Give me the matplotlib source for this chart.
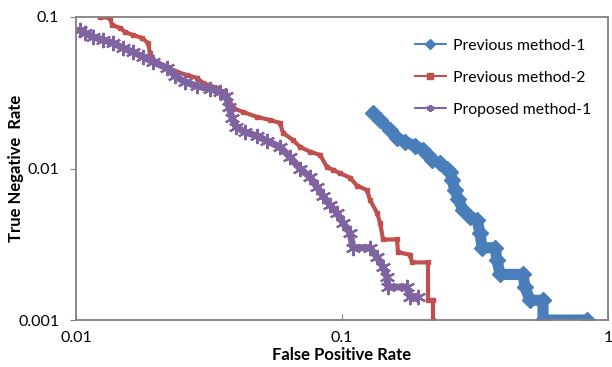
import matplotlib
matplotlib.use("Agg")
import matplotlib.pyplot as plt

plt.rcParams['font.family'] = ['Lato', 'DejaVu Sans']

# Previous method-1 (blue)
pm1_fpr = [0.1307, 0.139, 0.1515, 0.161, 0.1725, 0.1881, 0.2016, 0.2105, 0.2179, 0.2336,
           0.2482, 0.2547, 0.2592, 0.266, 0.2731, 0.2851, 0.3028, 0.3217, 0.3302, 0.336,
           0.376, 0.3826, 0.3926, 0.479, 0.4875, 0.509, 0.5696, 0.5696, 0.834]
pm1_tnr = [0.0232, 0.0209, 0.018, 0.0159, 0.015, 0.0141, 0.0133, 0.0123, 0.0114, 0.0109,
           0.0100, 0.0095, 0.0084, 0.0072, 0.0063, 0.0053, 0.0048, 0.0046, 0.00375, 0.0030,
           0.0030, 0.0025, 0.0020, 0.0020, 0.00165, 0.00135, 0.00135, 0.001, 0.001]

# Previous method-2 (red)
pm2_fpr = [0.01231, 0.01342, 0.01366, 0.01464, 0.01528, 0.01638, 0.0177, 0.01865, 0.01897, 0.01947,
           0.02198, 0.02398, 0.02615, 0.02851, 0.03003, 0.03389, 0.03696, 0.03892, 0.04244, 0.04792,
           0.05362, 0.05847, 0.06001, 0.06544, 0.06952, 0.0758, 0.08267, 0.08782, 0.09252, 0.09828,
           0.1072, 0.1139, 0.1242, 0.1274, 0.1354, 0.139, 0.1426, 0.161, 0.1624, 0.1801,
           0.1833, 0.2105, 0.2105, 0.2198, 0.2198]
pm2_tnr = [0.1, 0.0985, 0.0886, 0.0846, 0.0796, 0.0761, 0.0727, 0.0674, 0.0579, 0.052,
           0.0468, 0.0434, 0.0414, 0.0396, 0.0367, 0.034, 0.0306, 0.0251, 0.0236, 0.0219,
           0.0209, 0.0200, 0.0172, 0.0154, 0.0139, 0.0129, 0.0123, 0.0102, 0.0098, 0.0093,
           0.0087, 0.0077, 0.0072, 0.0062, 0.0051, 0.0044, 0.0034, 0.0034, 0.0028, 0.0027,
           0.0024, 0.0024, 0.00135, 0.00135, 0.001]

# Proposed method-1 (purple)
prop_fpr = [0.01035, 0.01081, 0.01159, 0.01263, 0.01377, 0.01502, 0.01638, 0.01786, 0.01947, 0.02198,
            0.02356, 0.0257, 0.02851, 0.0319, 0.03478, 0.03664, 0.03761, 0.0386, 0.03996, 0.04318,
            0.04792, 0.05224, 0.05847, 0.06376, 0.06952, 0.0758, 0.08054, 0.08484, 0.09013, 0.09576,
            0.1009, 0.1072, 0.110, 0.1274, 0.1354, 0.1426, 0.1476, 0.1489, 0.1755, 0.1801, 0.1931]
prop_tnr = [0.0821, 0.0784, 0.0738, 0.0705, 0.0674, 0.0624, 0.0587, 0.0545, 0.0505, 0.0461,
            0.0408, 0.0372, 0.0350, 0.0335, 0.0320, 0.0301, 0.0255, 0.02154, 0.0188, 0.0174,
            0.0164, 0.0152, 0.01387, 0.0119, 0.0100, 0.00879, 0.00755, 0.00658, 0.00574, 0.00508,
            0.00437, 0.00375, 0.0030, 0.0030, 0.0026, 0.00224, 0.00192, 0.00165, 0.00165, 0.00142, 0.00142]

x_ticks = [0.01, 0.1, 1]
x_tick_labels = ["0.01", "0.1", "1"]
y_ticks = [0.001, 0.01, 0.1]
y_tick_labels = ["0.001", "0.01", "0.1"]

blue = "#4A7EBB"
red = "#C0504D"
purple = "#8064A2"

fig = plt.figure(figsize=(6.12, 3.67), dpi=100)
ax = fig.add_axes([0.1242, 0.128, 0.8693, 0.8257])

l1, = ax.plot(pm1_fpr, pm1_tnr, color=blue, lw=8, marker='D', ms=8.5,
              solid_capstyle='round', solid_joinstyle='round', label="Previous method-1")
l2, = ax.plot(pm2_fpr, pm2_tnr, color=red, lw=3, marker='s', ms=3.5,
              solid_joinstyle='miter', label="Previous method-2")
l3, = ax.plot(prop_fpr, prop_tnr, color=purple, lw=5, marker=(6, 2, 0), ms=11, mew=1.6,
              solid_joinstyle='round', solid_capstyle='round', label="Proposed method-1")

ax.set_xscale('log')
ax.set_yscale('log')
ax.set_xlim(0.01, 1)
ax.set_ylim(0.001, 0.1)
ax.minorticks_off()
ax.set_xticks(x_ticks)
ax.set_xticklabels(x_tick_labels)
ax.set_yticks(y_ticks)
ax.set_yticklabels(y_tick_labels)
ax.tick_params(axis='x', direction='in', length=4, color='#808080', labelsize=11.5, pad=8)
ax.tick_params(axis='y', direction='out', length=4, color='#808080', labelsize=11.5, pad=8)

for s in ax.spines.values():
    s.set_color('#808080')
    s.set_linewidth(1.3)

ax.set_xlabel("False Positive Rate", fontsize=12, fontweight='bold', labelpad=1)
ax.set_ylabel("True Negative  Rate", fontsize=12, fontweight='bold')
ax.yaxis.set_label_coords(-0.097, 0.5)

leg = ax.legend(loc='upper right', frameon=False, fontsize=11.3, labelspacing=1.15,
                handlelength=2.0, handletextpad=0.45, bbox_to_anchor=(0.995, 0.975))
for h in leg.get_lines():
    h.set_linewidth(1.5)
    h.set_markersize(5)

fig.savefig("out.png", dpi=100)
